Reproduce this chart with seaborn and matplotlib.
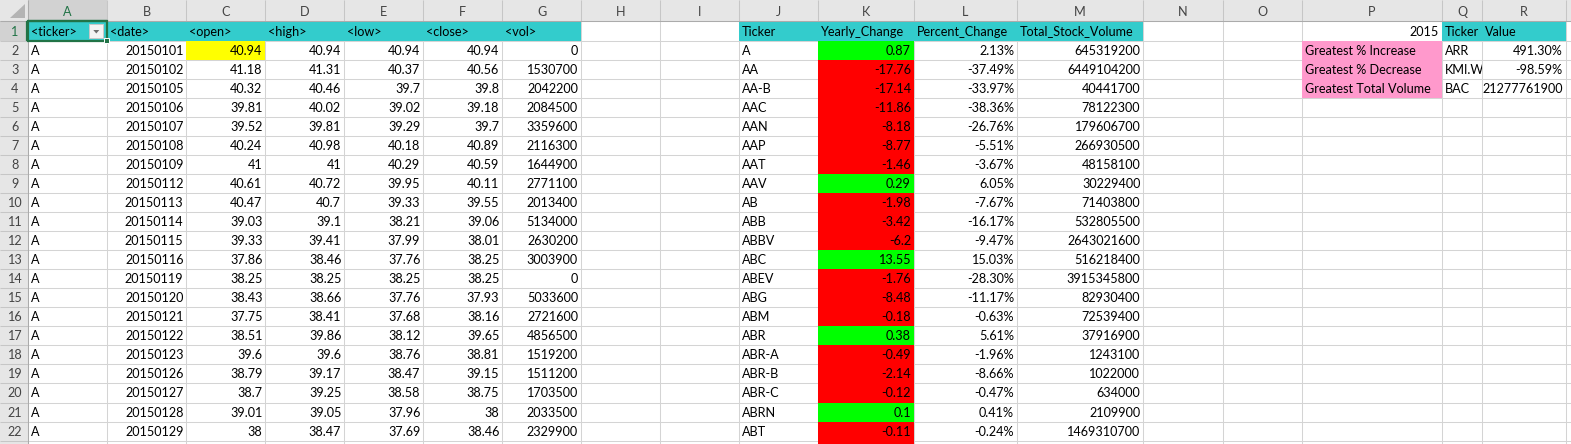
import numpy as np
import matplotlib
matplotlib.use("Agg")
import matplotlib.pyplot as plt
from matplotlib.colors import ListedColormap
from matplotlib.patches import Rectangle, Polygon
from matplotlib.transforms import Bbox, TransformedBbox
import seaborn as sns

sns.set_theme(style="white")
plt.rcParams["font.family"] = ["Lato", "DejaVu Sans"]

# ---------------- data ----------------
raw_headers = ["<ticker>", "<date>", "<open>", "<high>", "<low>", "<close>", "<vol>"]
raw_ticker = ["A", "A", "A", "A", "A", "A", "A", "A", "A", "A", "A",
              "A", "A", "A", "A", "A", "A", "A", "A", "A", "A"]
raw_date = [20150101, 20150102, 20150105, 20150106, 20150107, 20150108, 20150109,
            20150112, 20150113, 20150114, 20150115, 20150116, 20150119, 20150120,
            20150121, 20150122, 20150123, 20150126, 20150127, 20150128, 20150129]
raw_open = [40.94, 41.18, 40.32, 39.81, 39.52, 40.24, 41, 40.61, 40.47, 39.03, 39.33,
            37.86, 38.25, 38.43, 37.75, 38.51, 39.6, 38.79, 38.7, 39.01, 38]
raw_high = [40.94, 41.31, 40.46, 40.02, 39.81, 40.98, 41, 40.72, 40.7, 39.1, 39.41,
            38.46, 38.25, 38.66, 38.41, 39.86, 39.6, 39.17, 39.25, 39.05, 38.47]
raw_low = [40.94, 40.37, 39.7, 39.02, 39.29, 40.18, 40.29, 39.95, 39.33, 38.21, 37.99,
           37.76, 38.25, 37.76, 37.68, 38.12, 38.76, 38.47, 38.58, 37.96, 37.69]
raw_close = [40.94, 40.56, 39.8, 39.18, 39.7, 40.89, 40.59, 40.11, 39.55, 39.06, 38.01,
             38.25, 38.25, 37.93, 38.16, 39.65, 38.81, 39.15, 38.75, 38, 38.46]
raw_vol = [0, 1530700, 2042200, 2084500, 3359600, 2116300, 1644900, 2771100, 2013400,
           5134000, 2630200, 3003900, 0, 5033600, 2721600, 4856500, 1519200, 1511200,
           1703500, 2033500, 2329900]

summary_headers = ["Ticker", "Yearly_Change", "Percent_Change", "Total_Stock_Volume"]
summary_ticker = ["A", "AA", "AA-B", "AAC", "AAN", "AAP", "AAT", "AAV", "AB", "ABB",
                  "ABBV", "ABC", "ABEV", "ABG", "ABM", "ABR", "ABR-A", "ABR-B",
                  "ABR-C", "ABRN", "ABT"]
yearly_change = [0.87, -17.76, -17.14, -11.86, -8.18, -8.77, -1.46, 0.29, -1.98, -3.42,
                 -6.2, 13.55, -1.76, -8.48, -0.18, 0.38, -0.49, -2.14, -0.12, 0.1, -0.11]
percent_change = [0.0213, -0.3749, -0.3397, -0.3836, -0.2676, -0.0551, -0.0367, 0.0605,
                  -0.0767, -0.1617, -0.0947, 0.1503, -0.2830, -0.1117, -0.0063, 0.0561,
                  -0.0196, -0.0866, -0.0047, 0.0041, -0.0024]
total_volume = [645319200, 6449104200, 40441700, 78122300, 179606700, 266930500,
                48158100, 30229400, 71403800, 532805500, 2643021600, 516218400,
                3915345800, 82930400, 72539400, 37916900, 1243100, 1022000, 634000,
                2109900, 1469310700]

year_label = 2015
best_headers = ["Ticker", "Value"]
best_labels = ["Greatest % Increase", "Greatest % Decrease", "Greatest Total Volume"]
best_ticker = ["ARR", "KMI.WS", "BAC"]
best_pct = [4.9130, -0.9859]
best_volume = 21277761900

# ---------------- sheet geometry (pixels) ----------------
W, H = 1571, 444
col_letters = list("ABCDEFGHIJKLMNOPQRS")
col_edges = np.array([28, 107, 186.5, 265.5, 344.3, 423.3, 502.3, 581, 659.8, 738.7,
                      818, 914, 1017, 1143.3, 1222.7, 1301.7, 1441.7, 1482.3, 1565.7, 1645])
HDR_H = 21.5
ROW_H = 19.05
n_rows = 23
row_edges = HDR_H + ROW_H * np.arange(n_rows + 1)

GRID = "#D4D4D4"
HDR_BG = "#E6E6E6"
HDR_SEL = "#D2D2D2"
HDR_TXT = "#444444"
XL_GREEN = "#217346"
FS = 9.1

# fill colours: 1 teal, 2 yellow, 3 green, 4 red, 5 pink
fill_cmap = ListedColormap(["#33CCCC", "#FFFF00", "#00FF00", "#FF0000", "#FF99CC"])


def general(v):
    if isinstance(v, (int, np.integer)):
        return str(v)
    return f"{v:g}"


# cells[(excel_row, col_index)] = (text, align)
cells = {}
fill = np.full((n_rows, len(col_letters)), np.nan)

for c, h in enumerate(raw_headers):
    cells[(1, c)] = (h, "left")
    fill[0, c] = 1
for i in range(len(raw_date)):
    r = i + 2
    cells[(r, 0)] = (raw_ticker[i], "left")
    cells[(r, 1)] = (general(raw_date[i]), "right")
    cells[(r, 2)] = (general(raw_open[i]), "right")
    cells[(r, 3)] = (general(raw_high[i]), "right")
    cells[(r, 4)] = (general(raw_low[i]), "right")
    cells[(r, 5)] = (general(raw_close[i]), "right")
    cells[(r, 6)] = (general(raw_vol[i]), "right")
fill[1, 2] = 2

for c, h in enumerate(summary_headers):
    cells[(1, 9 + c)] = (h, "left")
    fill[0, 9 + c] = 1
for i in range(len(summary_ticker)):
    r = i + 2
    cells[(r, 9)] = (summary_ticker[i], "left")
    cells[(r, 10)] = (general(yearly_change[i]), "right")
    cells[(r, 11)] = (f"{percent_change[i]:.2%}", "right")
    cells[(r, 12)] = (general(total_volume[i]), "right")
    fill[i + 1, 10] = 3 if yearly_change[i] >= 0 else 4
fill[n_rows - 1, 10] = 4  # next ticker (cut off at the bottom) is also a decline

cells[(1, 15)] = (str(year_label), "right")
for c, h in enumerate(best_headers):
    cells[(1, 16 + c)] = (h, "left")
    fill[0, 16 + c] = 1
best_values = [f"{best_pct[0]:.2%}", f"{best_pct[1]:.2%}", general(best_volume)]
for i in range(3):
    cells[(i + 2, 15)] = (best_labels[i], "left")
    cells[(i + 2, 16)] = (best_ticker[i], "left")
    cells[(i + 2, 17)] = (best_values[i], "right")
    fill[i + 1, 15] = 5

# ---------------- draw ----------------
fig = plt.figure(figsize=(W / 100, H / 100), dpi=100)
ax = fig.add_axes([0, 0, 1, 1])
ax.set_xlim(0, W)
ax.set_ylim(H, 0)
ax.axis("off")

# gridlines, then cell fills on top (fills hide the gridlines like in Excel)
ax.vlines(col_edges, HDR_H, H, color=GRID, lw=0.75, zorder=1)
ax.hlines(row_edges, col_edges[0], W, color=GRID, lw=0.75, zorder=1)
ax.pcolormesh(col_edges, row_edges, np.ma.masked_invalid(fill), cmap=fill_cmap,
              vmin=0.5, vmax=5.5, zorder=2)

# cell text (left-aligned text is cut at its cell edge, e.g. KMI.WS)
for (r, c), (txt, align) in cells.items():
    x0, x1 = col_edges[c], col_edges[c + 1]
    y = row_edges[r - 1] + 14
    if align == "left":
        t = ax.text(x0 + 3, y, txt, ha="left", va="baseline", fontsize=FS,
                    color="black", zorder=4, clip_on=True)
        box = Bbox([[x0, row_edges[r - 1]], [x1 - 0.5, row_edges[r]]])
        t.set_clip_box(TransformedBbox(box, ax.transData))
    else:
        ax.text(x1 - 3, y, txt, ha="right", va="baseline", fontsize=FS,
                color="black", zorder=4)

# column / row header strips
ax.add_patch(Rectangle((0, 0), W, HDR_H, color=HDR_BG, zorder=5, lw=0))
ax.add_patch(Rectangle((0, HDR_H), col_edges[0], H, color=HDR_BG, zorder=5, lw=0))
ax.add_patch(Rectangle((col_edges[0], 0), col_edges[1] - col_edges[0], HDR_H,
                       color=HDR_SEL, zorder=5.5, lw=0))
ax.add_patch(Rectangle((0, row_edges[0]), col_edges[0], ROW_H,
                       color=HDR_SEL, zorder=5.5, lw=0))
ax.vlines(col_edges, 0, HDR_H, color="#C6C6C6", lw=0.75, zorder=6)
ax.hlines(row_edges, 0, col_edges[0], color="#C6C6C6", lw=0.75, zorder=6)
ax.hlines(HDR_H, 0, W, color="#ABABAB", lw=0.75, zorder=6)
ax.vlines(col_edges[0], 0, H, color="#ABABAB", lw=0.75, zorder=6)
ax.hlines(HDR_H - 0.5, col_edges[0], col_edges[1], color=XL_GREEN, lw=1.6, zorder=7)
ax.vlines(col_edges[0] - 0.5, row_edges[0], row_edges[1], color=XL_GREEN, lw=1.6, zorder=7)
ax.add_patch(Polygon([(25, 4), (25, 18.5), (10.5, 18.5)], closed=True,
                     color="#B4B4B4", lw=0, zorder=7))

for c, letter in enumerate(col_letters):
    xm = (col_edges[c] + col_edges[c + 1]) / 2
    if xm > W - 8:
        continue
    ax.text(xm, 16, letter, ha="center", va="baseline", fontsize=FS,
            color=XL_GREEN if c == 0 else HDR_TXT, zorder=8)
for r in range(1, n_rows + 1):
    if row_edges[r - 1] + 14 > H - 2:
        continue
    ax.text(col_edges[0] / 2 + 1, row_edges[r - 1] + 14, str(r), ha="center",
            va="baseline", fontsize=FS, color=XL_GREEN if r == 1 else HDR_TXT, zorder=8)

# active cell A1 with its filter drop-down
ax.add_patch(Rectangle((col_edges[0], row_edges[0]), col_edges[1] - col_edges[0], ROW_H,
                       fill=False, edgecolor=XL_GREEN, lw=1.6, zorder=9))
ax.add_patch(Rectangle((col_edges[1] - 3, row_edges[1] - 3), 5, 5, facecolor=XL_GREEN,
                       edgecolor="white", lw=0.7, zorder=10))
ax.add_patch(Rectangle((89.5, 24.5), 13.5, 14, facecolor="#F4F4F4", edgecolor="#C8C8C8",
                       lw=0.7, zorder=9))
ax.add_patch(Polygon([(93.3, 30), (99.3, 30), (96.3, 33.5)], closed=True,
                     color="#6E6E6E", lw=0, zorder=10))

fig.savefig("out.png", dpi=100)
